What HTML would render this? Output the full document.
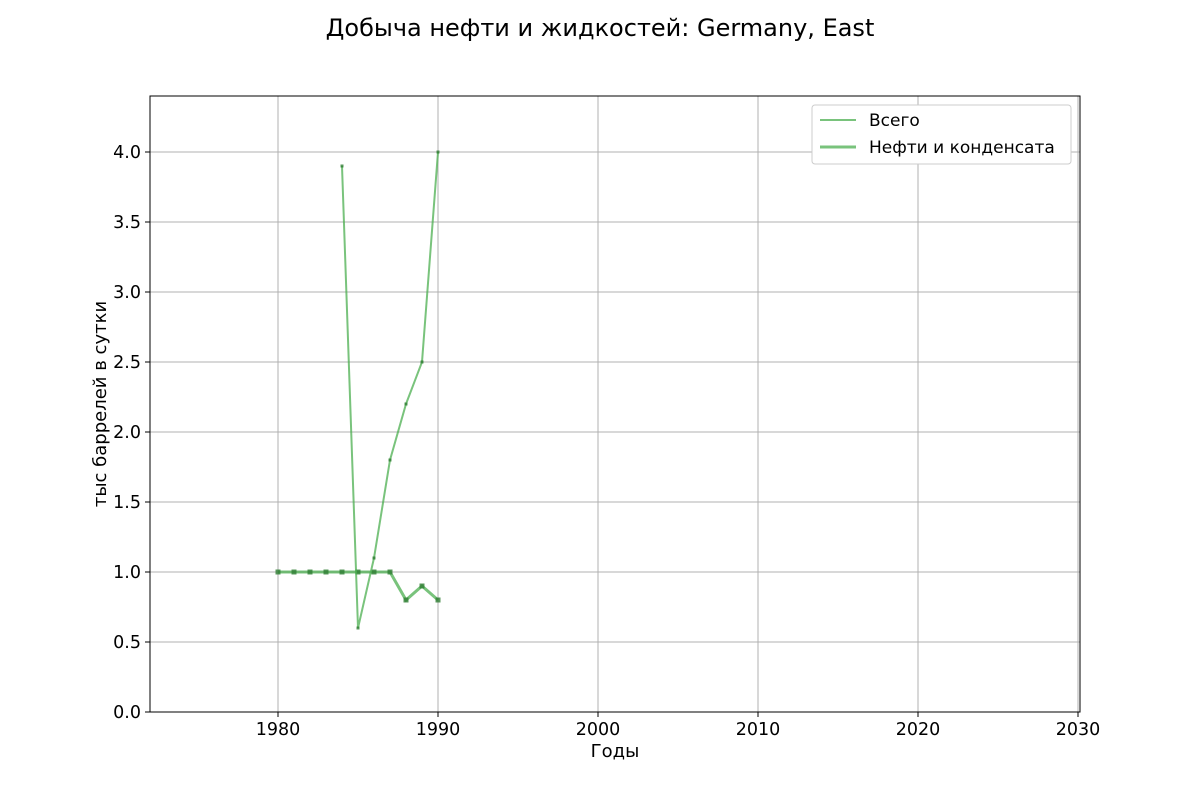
<!DOCTYPE html>
<html><head><meta charset="utf-8"><style>
body{margin:0;background:#fff;font-family:"DejaVu Sans","Liberation Sans",sans-serif}
</style></head><body>
<svg id="chart" width="1200" height="800" xmlns="http://www.w3.org/2000/svg" font-family="DejaVu Sans, Liberation Sans, sans-serif">
<rect width="1200" height="800" fill="#fff"/>
<text x="600" y="36" text-anchor="middle" font-size="24">Добыча нефти и жидкостей: Germany, East</text>
<g id="grid"></g><g id="ticks"></g><g id="series"></g>
<rect x="150" y="96" width="930" height="616" fill="none" stroke="#000" stroke-width="1"/>
<text x="615" y="757" text-anchor="middle" font-size="18">Годы</text>
<text transform="translate(106,404) rotate(-90)" text-anchor="middle" font-size="18">тыс баррелей в сутки</text>
<g>
<rect x="812" y="105" width="259" height="59" rx="3" fill="#fff" stroke="#ccc"/>
<line x1="820" y1="120" x2="856" y2="120" stroke="#4caf50" stroke-opacity="0.75" stroke-width="2"/>
<text x="869" y="126" font-size="17">Всего</text>
<line x1="820" y1="147" x2="856" y2="147" stroke="#4caf50" stroke-opacity="0.75" stroke-width="3"/>
<text x="869" y="153" font-size="17">Нефти и конденсата</text>
</g>
</svg>
<script>
const xTicks=[1980,1990,2000,2010,2020,2030];
const yTicks=[0,0.5,1,1.5,2,2.5,3,3.5,4];
const totalYears=[1984,1985,1986,1987,1988,1989,1990];
const totalValues=[3.9,0.6,1.1,1.8,2.2,2.5,4.0];
const oilYears=[1980,1981,1982,1983,1984,1985,1986,1987,1988,1989,1990];
const oilValues=[1,1,1,1,1,1,1,1,0.8,0.9,0.8];
const NS="http://www.w3.org/2000/svg";
const X=v=>150+(v-1972)*16, Y=v=>712-v*140;
function mk(t,a,p){const e=document.createElementNS(NS,t);for(const k in a)e.setAttribute(k,a[k]);p.appendChild(e);return e;}
const g=document.getElementById('grid'),tk=document.getElementById('ticks'),s=document.getElementById('series');
xTicks.forEach(v=>{
 const l=mk('line',{x1:X(v),x2:X(v),y1:96,y2:712,stroke:'#b0b0b0','stroke-width':1},g);
 
 
 mk('line',{x1:X(v),x2:X(v),y1:712,y2:717,stroke:'#000'},tk);
 const t=mk('text',{x:X(v),y:735,'text-anchor':'middle','font-size':17.5},tk);t.textContent=v;
 
 
});
yTicks.forEach(v=>{
 const l=mk('line',{x1:150,x2:1080,y1:Y(v),y2:Y(v),stroke:'#b0b0b0','stroke-width':1},g);
 
 
 mk('line',{x1:145,x2:150,y1:Y(v),y2:Y(v),stroke:'#000'},tk);
 const t=mk('text',{x:141,y:Y(v)+6,'text-anchor':'end','font-size':17.5},tk);t.textContent=v.toFixed(1);
 
 
});
function line(xs,ys,w,name,ms){
 const p=mk('polyline',{points:xs.map((x,i)=>X(x)+','+Y(ys[i])).join(' '),fill:'none',stroke:'#4caf50','stroke-opacity':0.75,'stroke-width':w},s);
 
 
 xs.forEach((x,i)=>{const r=mk('rect',{x:X(x)-ms/2,y:Y(ys[i])-ms/2,width:ms,height:ms,fill:'#2e7d32','fill-opacity':0.8},s);
 
 });
}
line(oilYears,oilValues,3,'oil-line',5);
line(totalYears,totalValues,2,'total-line',3);
</script>
</body></html>
